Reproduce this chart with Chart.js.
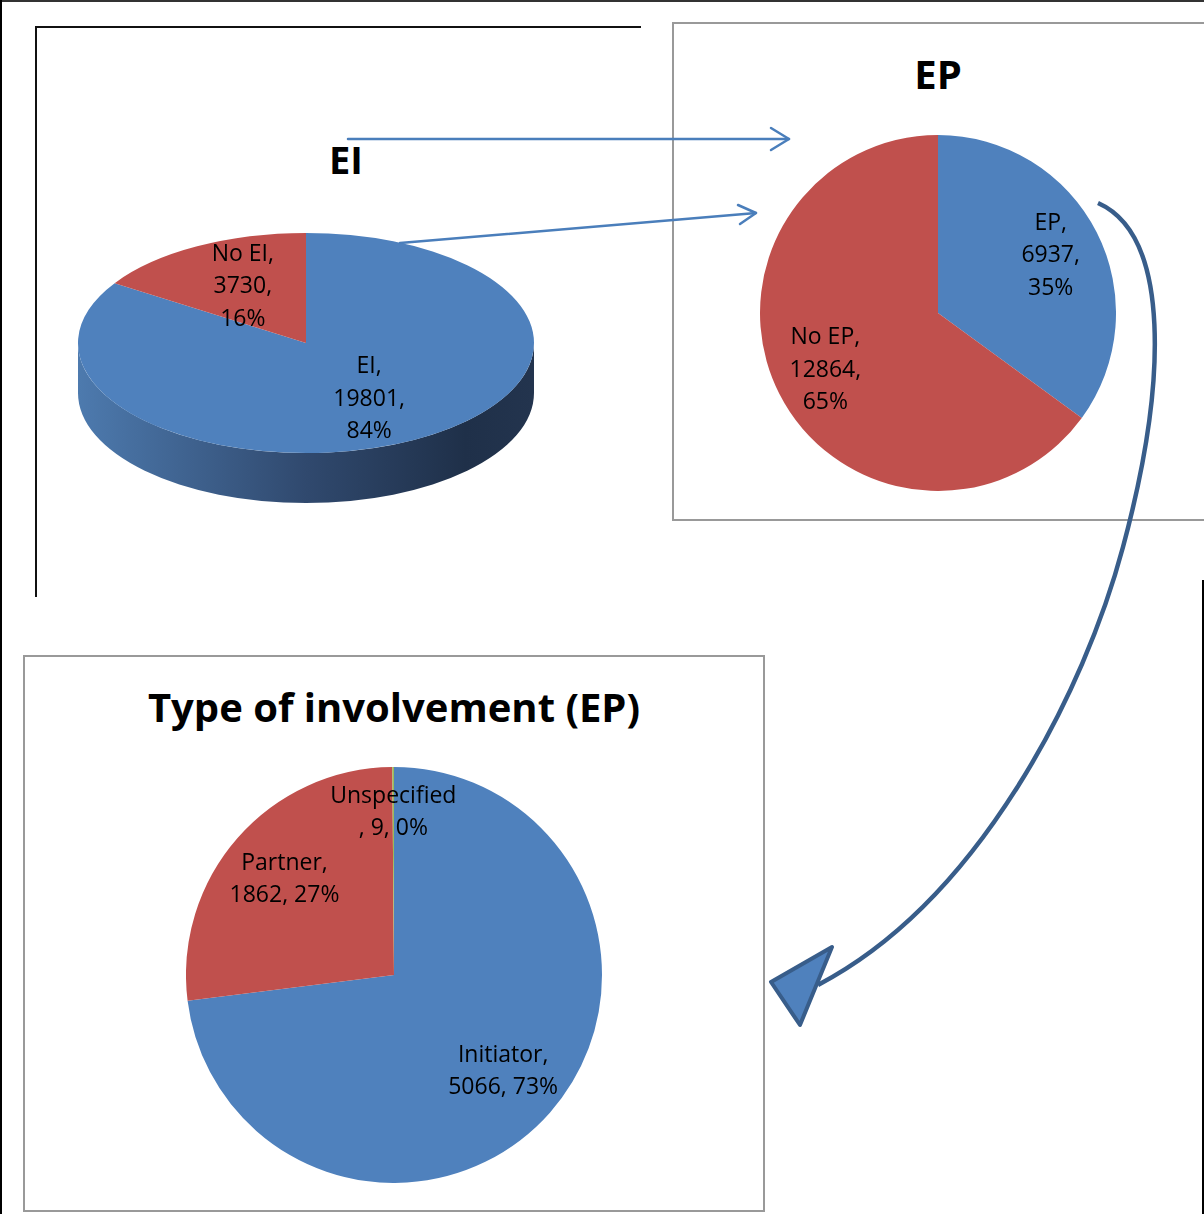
<!DOCTYPE html>
<html>
<head>
<meta charset="utf-8">
<script src="https://cdn.jsdelivr.net/npm/chart.js@4"></script>
<style>
  body { margin: 0; background: #fff; }
  #page { position: relative; width: 1204px; height: 1214px; overflow: hidden; background: #fff; }
  canvas { position: absolute; }
  .title { position: absolute; font-family: "Open Sans", sans-serif; font-weight: bold; color: #000; text-align: center; white-space: nowrap; line-height: 1; }
  svg { position: absolute; left: 0; top: 0; pointer-events: none; }
</style>
</head>
<body>
<div id="page">
  <svg width="1204" height="1214">
    <!-- frames -->
    <line x1="0" y1="1" x2="1204" y2="1" stroke="#333" stroke-width="2"/>
    <line x1="1" y1="0" x2="1" y2="1214" stroke="#000" stroke-width="2"/>
    <polyline points="36,597 36,27 641,27" fill="none" stroke="#111" stroke-width="2"/>
    <polyline points="1204,23 673,23 673,520 1204,520" fill="none" stroke="#999" stroke-width="2"/>
    <rect x="24" y="656" width="740" height="555" fill="none" stroke="#999" stroke-width="2"/>
    <line x1="1203" y1="580" x2="1203" y2="1214" stroke="#000" stroke-width="2"/>
  </svg>

  <div class="title" id="t1" style="left:246px; top:140px; width:200px; font-size:38px;">EI</div>
  <div class="title" id="t2" style="left:838px; top:54px; width:200px; font-size:40px;">EP</div>
  <div class="title" id="t3" style="left:94px; top:687px; width:600px; font-size:40px;">Type of involvement (EP)</div>

  <canvas id="eiChart" width="456" height="456" style="left:78px; top:115px;"></canvas>
  <canvas id="epChart" width="356" height="356" style="left:760px; top:135px;"></canvas>
  <canvas id="typeChart" width="416" height="416" style="left:186px; top:767px;"></canvas>

  <svg width="1204" height="1214">
    <!-- arrows EI -> EP -->
    <g stroke="#4a7ebb" stroke-width="2.5" fill="none" stroke-linecap="round" stroke-linejoin="round">
      <line x1="348" y1="139" x2="789" y2="139"/>
      <polyline points="771,128 789,139 771,150"/>
      <line x1="400" y1="243" x2="756" y2="213"/>
      <polyline points="738,205 756,213 740,224"/>
    </g>
    <!-- curved arrow EP -> type -->
    <path d="M1098,203 C1170,235 1168,380 1123,547 C1085,690 980,900 818,985" fill="none" stroke="#385d8a" stroke-width="4.5"/>
    <polygon points="771,982 832,947 800,1025" fill="#4f81bd" stroke="#385d8a" stroke-width="4" stroke-linejoin="round"/>
  </svg>
</div>

<script>
const eiLabels = ['EI', 'No EI'];
const eiValues = [19801, 3730];

const epLabels = ['EP', 'No EP'];
const epValues = [6937, 12864];

const typeLabels = ['Initiator', 'Partner', 'Unspecified'];
const typeValues = [5066, 1862, 9];

const BLUE = '#4f81bd';
const RED = '#c0504d';
const GREEN = '#9bbb59';

function pct(v, arr) {
    const total = arr.reduce((a, b) => a + b, 0);
    return Math.round(v / total * 100) + '%';
}

// excel-like text of the data labels
function stackedLines(labels, values) {
    return labels.map((l, i) => [l + ',', values[i] + ',', pct(values[i], values)]);
}
function twoLines(labels, values) {
    return labels.map((l, i) => {
        const rest = values[i] + ', ' + pct(values[i], values);
        // long names wrap before the comma
        return l.length > 9 ? [l, ', ' + rest] : [l + ',', rest];
    });
}

// fake 3d: squash the pie and draw a side band below it
const squash = {
    id: 'squash',
    beforeDatasetsDraw(chart, args, opts) {
        const arc = chart.getDatasetMeta(0).data[0];
        const x = arc.x, y = arc.y, r = arc.outerRadius;
        const ctx = chart.ctx;
        ctx.save();
        ctx.translate(x, y);
        ctx.scale(1, opts.ratio);
        ctx.translate(-x, -y);
        const d = opts.depth / opts.ratio;
        const g = ctx.createLinearGradient(x - r, 0, x + r, 0);
        g.addColorStop(0, '#4d7aae');
        g.addColorStop(0.5, '#30496e');
        g.addColorStop(0.85, '#1f3049');
        g.addColorStop(1, '#23344e');
        ctx.fillStyle = g;
        ctx.beginPath();
        ctx.arc(x, y, r, 0, Math.PI);
        ctx.lineTo(x - r, y + d);
        ctx.arc(x, y + d, r, Math.PI, 0, true);
        ctx.closePath();
        ctx.fill();
    },
    afterDatasetsDraw(chart) {
        chart.ctx.restore();
    }
};

// data labels inside the slices
const sliceLabels = {
    id: 'sliceLabels',
    afterDraw(chart, args, opts) {
        const ctx = chart.ctx;
        const meta = chart.getDatasetMeta(0);
        ctx.save();
        ctx.font = '23px "Open Sans"';
        ctx.fillStyle = '#000';
        ctx.textAlign = 'center';
        ctx.textBaseline = 'middle';
        meta.data.forEach((arc, i) => {
            const mid = (arc.startAngle + arc.endAngle) / 2;
            const k = opts.dist[i];
            const cx = arc.x + Math.cos(mid) * arc.outerRadius * k;
            const cy = arc.y + Math.sin(mid) * arc.outerRadius * k * (opts.ratio || 1);
            const lines = opts.lines[i];
            const top = cy - (lines.length - 1) * opts.lineHeight / 2;
            lines.forEach((t, j) => ctx.fillText(t, cx, top + j * opts.lineHeight));
        });
        ctx.restore();
    }
};

function pieConfig(labels, values, colors, pluginOpts, extraPlugins) {
    return {
        type: 'pie',
        data: {
            labels: labels,
            datasets: [{
                data: values,
                backgroundColor: colors,
                borderWidth: 0,
                hoverOffset: 0
            }]
        },
        options: {
            responsive: false,
            animation: false,
            events: [],
            layout: { padding: 0 },
            plugins: Object.assign({
                legend: { display: false },
                tooltip: { enabled: false },
                title: { display: false }
            }, pluginOpts)
        },
        plugins: extraPlugins
    };
}

new Chart(document.getElementById('eiChart'), pieConfig(
    eiLabels, eiValues, [BLUE, RED],
    {
        squash: { ratio: 110 / 228, depth: 50 },
        sliceLabels: { dist: [0.58, 0.58], ratio: 110 / 228, lineHeight: 32.5, lines: stackedLines(eiLabels, eiValues) }
    },
    [squash, sliceLabels]
));

new Chart(document.getElementById('epChart'), pieConfig(
    epLabels, epValues, [BLUE, RED],
    {
        sliceLabels: { dist: [0.71, 0.71], lineHeight: 32.5, lines: stackedLines(epLabels, epValues) }
    },
    [sliceLabels]
));

new Chart(document.getElementById('typeChart'), pieConfig(
    typeLabels, typeValues, [BLUE, RED, GREEN],
    {
        sliceLabels: { dist: [0.70, 0.70, 0.78], lineHeight: 32, lines: twoLines(typeLabels, typeValues) }
    },
    [sliceLabels]
));
</script>
</body>
</html>
